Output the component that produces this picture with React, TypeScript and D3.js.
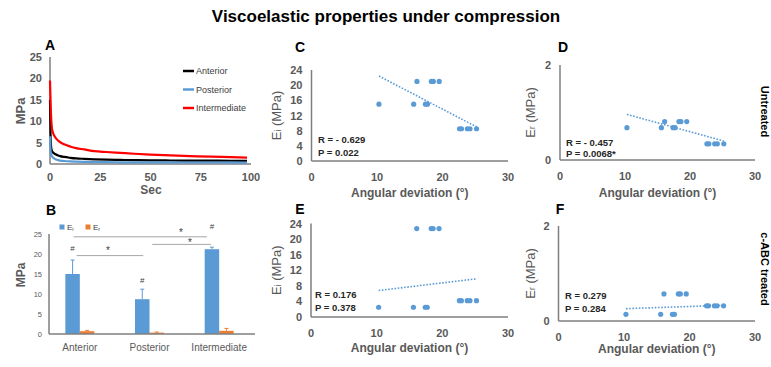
import React from "react";
import * as d3 from "d3";

// ---------- Data ----------
const TITLE = "Viscoelastic properties under compression";

// Panel A: stress relaxation curves
const TIME = [0, 0.3, 0.6, 1, 1.5, 2, 3, 4, 5, 7, 10, 13, 17, 22, 28, 35, 42, 50, 60, 70, 80, 90, 98];
const ANTERIOR = [15, 6, 3.8, 3.0, 2.7, 2.5, 2.2, 2.0, 1.85, 1.65, 1.45, 1.3, 1.2, 1.1, 1.0, 0.95, 0.9, 0.85, 0.82, 0.8, 0.78, 0.76, 0.75];
const POSTERIOR = [6.5, 3.0, 2.2, 1.8, 1.5, 1.3, 1.05, 0.9, 0.8, 0.7, 0.6, 0.55, 0.5, 0.45, 0.42, 0.4, 0.38, 0.37, 0.36, 0.35, 0.35, 0.34, 0.34];
const INTERMEDIATE = [19.5, 14, 10.5, 8.2, 7.3, 6.7, 6.0, 5.5, 5.1, 4.6, 4.1, 3.7, 3.4, 3.0, 2.8, 2.6, 2.4, 2.2, 2.0, 1.85, 1.7, 1.6, 1.5];
const A_SERIES = ["Anterior", "Posterior", "Intermediate"];
const A_TICKS_X = [0, 25, 50, 75, 100];
const A_TICKS_Y = [0, 5, 10, 15, 20, 25];

// Panel B: bar chart
const REGIONS = ["Anterior", "Posterior", "Intermediate"];
const EI_MEAN = [15, 8.7, 21.2];
const EI_ERR = [3.5, 2.5, 0.5];
const ER_MEAN = [0.7, 0.35, 0.8];
const ER_ERR = [0.2, 0.15, 0.6];
const B_TICKS_Y = [0, 5, 10, 15, 20, 25];
const HASH_Y = [21.5, 13.5, 26.8];

// Panels C-F: scatter vs angular deviation
const ANGLE = [10.3, 15.6, 16.1, 17.4, 17.7, 18.3, 18.6, 19.5, 22.6, 22.9, 23.8, 24.2, 25.2];
const C_EI = [15, 15, 21, 15, 15, 21, 21, 21, 8.5, 8.5, 8.5, 8.5, 8.5];
const D_ER = [0.68, 0.68, 0.81, 0.68, 0.68, 0.81, 0.81, 0.81, 0.34, 0.34, 0.34, 0.34, 0.34];
const E_EI = [2.5, 2.5, 22.7, 2.5, 2.5, 22.7, 22.7, 22.7, 4.2, 4.2, 4.2, 4.2, 4.2];
const F_ER = [0.14, 0.14, 0.57, 0.14, 0.14, 0.57, 0.57, 0.57, 0.32, 0.32, 0.32, 0.32, 0.32];
const TREND_X = [10.3, 25.2];
const C_TREND = [22.4, 9.0];
const D_TREND = [0.96, 0.4];
const E_TREND = [6.8, 9.8];
const F_TREND = [0.26, 0.33];
const C_STATS = ["R = - 0.629", "P = 0.022"];
const D_STATS = ["R = - 0.457", "P = 0.0068*"];
const E_STATS = ["R = 0.176", "P = 0.378"];
const F_STATS = ["R = 0.279", "P = 0.284"];
const SC_TICKS_X = [0, 10, 20, 30];
const EI_TICKS = [0, 4, 8, 12, 16, 20, 24];
const ER_TICKS = [0, 2];

// ---------- Styles ----------
const FONT = "'Liberation Sans', Arial, sans-serif";
const GRAY = "#595959";
const AXIS = "#7f7f7f";
const BLUE = "#5b9bd5";
const ORANGE = "#ed7d31";
const A_COLORS = ["#000000", BLUE, "#ff0000"];

function PanelA() {
  const x = d3.scaleLinear().domain([0, 100]).range([50, 251]);
  const y = d3.scaleLinear().domain([0, 25]).range([164, 57]);
  const line = d3
    .line<number>()
    .x((_, i) => x(TIME[i]))
    .y((d) => y(d))
    .curve(d3.curveMonotoneX);
  const series = [ANTERIOR, POSTERIOR, INTERMEDIATE];
  return (
    <g>
      <text x={50} y={45} fontSize={14} fontWeight="bold" textAnchor="middle" dominantBaseline="central">A</text>
      <line x1={x(0)} x2={x(0)} y1={y(25)} y2={y(0)} stroke={AXIS} strokeWidth={1.5} />
      <line x1={x(0)} x2={x(100)} y1={y(0)} y2={y(0)} stroke={AXIS} strokeWidth={1.5} />
      {A_TICKS_Y.map((t) => (
        <text key={t} x={x(0) - 8} y={y(t)} fontSize={11} fontWeight="bold" fill={GRAY} textAnchor="end" dominantBaseline="central">{t}</text>
      ))}
      {A_TICKS_X.map((t) => (
        <text key={t} x={x(t)} y={177} fontSize={11} fontWeight="bold" fill={GRAY} textAnchor="middle" dominantBaseline="central">{t}</text>
      ))}
      {series.map((s, i) => (
        <path key={i} d={line(s) || ""} fill="none" stroke={A_COLORS[i]} strokeWidth={2.2} />
      ))}
      <text x={151} y={190} fontSize={12} fontWeight="bold" fill={GRAY} textAnchor="middle" dominantBaseline="central">Sec</text>
      <text transform="translate(20,111) rotate(-90)" fontSize={13} fontWeight="bold" fill={GRAY} textAnchor="middle" dominantBaseline="central">MPa</text>
      {A_SERIES.map((name, i) => (
        <g key={name} transform={`translate(0, ${71 + i * 18.5})`}>
          <line x1={183} x2={194} y1={0} y2={0} stroke={A_COLORS[i]} strokeWidth={2.5} />
          <text x={196} y={0} fontSize={9} fill="#404040" dominantBaseline="central">{name}</text>
        </g>
      ))}
    </g>
  );
}

function PanelB() {
  const x0 = d3.scaleBand<string>().domain(REGIONS).range([45, 254]);
  const x1 = d3.scaleBand<string>().domain(["Ei", "Er"]).range([0, 29]);
  const y = d3.scaleLinear().domain([0, 25]).range([334, 234]);
  const cx = (i: number) => (x0(REGIONS[i]) as number) + x0.bandwidth() / 2 - 14.5;
  const bars = [
    { key: "Ei", mean: EI_MEAN, err: EI_ERR, color: BLUE },
    { key: "Er", mean: ER_MEAN, err: ER_ERR, color: ORANGE },
  ];
  const bw = x1.bandwidth();
  const eiCenter = (i: number) => cx(i) + (x1("Ei") as number) + bw / 2;
  const brackets = [
    { x1: eiCenter(0) + 1, x2: eiCenter(2) - 5, y: 24.3, sx: 181, sy: 26.0 },
    { x1: eiCenter(1) + 10, x2: eiCenter(2) - 1, y: 22.4, sx: 190, sy: 23.5 },
    { x1: eiCenter(0) + 4, x2: eiCenter(1) + 1, y: 19.6, sx: 108, sy: 21.5 },
  ];
  return (
    <g>
      <text x={51} y={210} fontSize={14} fontWeight="bold" textAnchor="middle" dominantBaseline="central">B</text>
      {B_TICKS_Y.map((t) => (
        <text key={t} x={42} y={y(t)} fontSize={7.5} fill={GRAY} textAnchor="end" dominantBaseline="central">{t}</text>
      ))}
      {bars.map((b) =>
        REGIONS.map((r, i) => {
          const bx = cx(i) + (x1(b.key) as number);
          const mid = bx + bw / 2;
          return (
            <g key={b.key + r}>
              <rect x={bx} y={y(b.mean[i])} width={bw} height={y(0) - y(b.mean[i])} fill={b.color} />
              <line x1={mid} x2={mid} y1={y(b.mean[i])} y2={y(b.mean[i] + b.err[i])} stroke={b.color} strokeWidth={1} />
              <line x1={mid - 2} x2={mid + 2} y1={y(b.mean[i] + b.err[i])} y2={y(b.mean[i] + b.err[i])} stroke={b.color} strokeWidth={1} />
            </g>
          );
        })
      )}
      <line x1={49} x2={49} y1={y(25)} y2={y(0)} stroke={AXIS} strokeWidth={1.5} />
      <line x1={49} x2={255} y1={y(0)} y2={y(0)} stroke={AXIS} strokeWidth={1.5} />
      {REGIONS.map((r, i) => (
        <text key={r} x={cx(i) + 14.5} y={347} fontSize={10} fill={GRAY} textAnchor="middle" dominantBaseline="central">{r}</text>
      ))}
      {brackets.map((b, i) => (
        <g key={i}>
          <line x1={b.x1} x2={b.x2} y1={y(b.y)} y2={y(b.y)} stroke="#a6a6a6" strokeWidth={1} />
          <text x={b.sx} y={y(b.sy) + 2} fontSize={10} fill="#404040" textAnchor="middle" dominantBaseline="central">*</text>
        </g>
      ))}
      {REGIONS.map((r, i) => (
        <text key={"h" + r} x={eiCenter(i)} y={y(HASH_Y[i])} fontSize={8} fill="#404040" textAnchor="middle" dominantBaseline="central">#</text>
      ))}
      <text transform="translate(21,275) rotate(-90)" fontSize={12} fontWeight="bold" fill={GRAY} textAnchor="middle" dominantBaseline="central">MPa</text>
      <rect x={59.5} y={224.5} width={5} height={5} fill={BLUE} />
      <text x={67} y={227} fontSize={8} fill="#404040" dominantBaseline="central">E<tspan fontSize={5.5} dy={1.5}>i</tspan></text>
      <rect x={85.5} y={224.5} width={5} height={5} fill={ORANGE} />
      <text x={93} y={227} fontSize={8} fill="#404040" dominantBaseline="central">E<tspan fontSize={5.5} dy={1.5}>r</tspan></text>
    </g>
  );
}

type ScatterProps = {
  letter: string;
  letterX: number;
  letterY: number;
  xr: [number, number];
  yr: [number, number];
  ymax: number;
  yTicks: number[];
  values: number[];
  trend: number[];
  stats: string[];
  statsX: number;
  statsY: [number, number];
  sub: string;
  yLabelX: number;
  xLabelY: number;
};

function Scatter(p: ScatterProps) {
  const x = d3.scaleLinear().domain([0, 30]).range(p.xr);
  const y = d3.scaleLinear().domain([0, p.ymax]).range(p.yr);
  const cy = (p.yr[0] + p.yr[1]) / 2;
  return (
    <g>
      <text x={p.letterX} y={p.letterY} fontSize={14} fontWeight="bold" textAnchor="middle" dominantBaseline="central">{p.letter}</text>
      <line x1={x(0)} x2={x(0)} y1={y(p.ymax)} y2={y(0)} stroke={AXIS} strokeWidth={1.5} />
      <line x1={x(0)} x2={x(30)} y1={y(0)} y2={y(0)} stroke={AXIS} strokeWidth={1.5} />
      {p.yTicks.map((t) => (
        <text key={t} x={x(0) - 9} y={y(t)} fontSize={11} fontWeight="bold" fill={GRAY} textAnchor="end" dominantBaseline="central">{t}</text>
      ))}
      {SC_TICKS_X.map((t) => (
        <text key={t} x={x(t)} y={y(0) + 16} fontSize={11} fontWeight="bold" fill={GRAY} textAnchor="middle" dominantBaseline="central">{t}</text>
      ))}
      <line
        x1={x(TREND_X[0])} x2={x(TREND_X[1])} y1={y(p.trend[0])} y2={y(p.trend[1])}
        stroke={BLUE} strokeWidth={1.6} strokeDasharray="1.6,1.6"
      />
      {ANGLE.map((a, i) => (
        <circle key={i} cx={x(a)} cy={y(p.values[i])} r={2.6} fill={BLUE} />
      ))}
      {p.stats.map((s, i) => (
        <text key={i} x={p.statsX} y={p.statsY[i]} fontSize={9.5} fontWeight="bold" fill="#262626" dominantBaseline="central">{s}</text>
      ))}
      <text x={(x(0) + x(30)) / 2} y={p.xLabelY} fontSize={12} fontWeight="bold" fill={GRAY} textAnchor="middle" dominantBaseline="central">Angular deviation (°)</text>
      <text transform={`translate(${p.yLabelX},${cy}) rotate(-90)`} fontSize={13} fill={GRAY} textAnchor="middle" dominantBaseline="central">
        E<tspan fontSize={8.5} dy={2}>{p.sub}</tspan><tspan dy={-2}> (MPa)</tspan>
      </text>
    </g>
  );
}

export default function App() {
  return (
    <svg width={771} height={367} style={{ position: "absolute", left: 0, top: 0, background: "#fff" }} fontFamily={FONT}>
      <rect width={771} height={367} fill="#fff" />
      <text x={386} y={16} fontSize={17} fontWeight="bold" textAnchor="middle" dominantBaseline="central">{TITLE}</text>
      <PanelA />
      <PanelB />
      <Scatter letter="C" letterX={300} letterY={47} xr={[311.5, 508]} yr={[161, 70]} ymax={24} yTicks={EI_TICKS}
        values={C_EI} trend={C_TREND} stats={C_STATS} statsX={318} statsY={[139.3, 152.7]} sub="i" yLabelX={276} xLabelY={193} />
      <Scatter letter="D" letterX={563} letterY={47} xr={[560, 755]} yr={[160, 65]} ymax={2} yTicks={ER_TICKS}
        values={D_ER} trend={D_TREND} stats={D_STATS} statsX={566} statsY={[142, 153]} sub="r" yLabelX={530} xLabelY={193} />
      <Scatter letter="E" letterX={300} letterY={209} xr={[311, 508]} yr={[317, 223.5]} ymax={24} yTicks={EI_TICKS}
        values={E_EI} trend={E_TREND} stats={E_STATS} statsX={315} statsY={[294.3, 307.3]} sub="i" yLabelX={276} xLabelY={348} />
      <Scatter letter="F" letterX={560} letterY={209} xr={[558.5, 755]} yr={[321, 226]} ymax={2} yTicks={ER_TICKS}
        values={F_ER} trend={F_TREND} stats={F_STATS} statsX={565} statsY={[295, 308.3]} sub="r" yLabelX={530} xLabelY={349} />
      <text transform="translate(765,111.5) rotate(90)" fontSize={11} fontWeight="bold" textAnchor="middle" dominantBaseline="central">Untreated</text>
      <text transform="translate(765,269) rotate(90)" fontSize={11} fontWeight="bold" textAnchor="middle" dominantBaseline="central">c-ABC treated</text>
    </svg>
  );
}
